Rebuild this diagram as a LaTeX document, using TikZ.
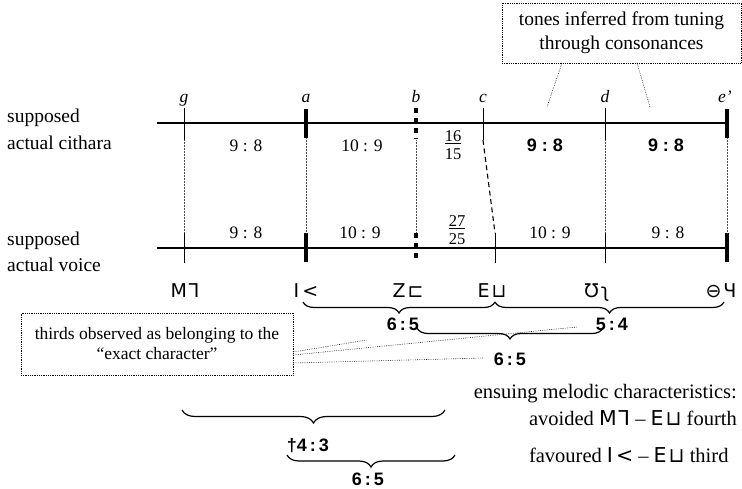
\documentclass[tikz,border=0pt]{standalone}
\usepackage{fontspec}
\setmainfont{Liberation Serif}
\newfontfamily\notefont{DejaVu Sans}
\newfontfamily\ratiofont{Liberation Sans}
\usetikzlibrary{decorations.pathreplacing}
\newcommand\gnG{{\notefont M\kern2pt ⅂}}
\newcommand\gnA{{\notefont I\kern3pt <}}
\newcommand\gnB{{\notefont Z\kern2pt ⊏}}
\newcommand\gnC{{\notefont E\kern2pt ⊔}}
\newcommand\gnD{{\notefont Ʊ\kern2pt ʅ}}
\newcommand\gnE{{\notefont ⊖\kern2pt Ч}}
\begin{document}
\begin{tikzpicture}[x=1pt,y=-1pt,
  lbl/.style={font=\fontsize{19.5}{24}\selectfont, inner sep=0pt, anchor=base west},
  nm/.style={font=\fontsize{17.5}{20}\selectfont\itshape, inner sep=0pt, anchor=base},
  rt/.style={font=\fontsize{17.5}{20}\selectfont, inner sep=0pt, anchor=base},
  frac/.style={font=\fontsize{16.5}{17.5}\selectfont, inner sep=0pt, align=center},
  brt/.style={font=\ratiofont\bfseries\fontsize{18}{20}\selectfont, inner sep=0pt},
  gn/.style={font=\fontsize{19}{22}\selectfont, inner sep=0pt, anchor=base},
  bt/.style={font=\fontsize{20.5}{24}\selectfont, inner sep=0pt},
  staff/.style={line width=1.3pt},
  thintick/.style={line width=1pt},
  thicktick/.style={line width=4pt},
  dotsq/.style={line width=3.5pt, dash pattern=on 4.5pt off 5.5pt},
  guide/.style={line width=0.5pt, black!70, dash pattern=on 0.5pt off 1pt},
  leader/.style={line width=0.6pt, dash pattern=on 0.6pt off 1.2pt},
  dbox/.style={draw, line width=0.6pt, dash pattern=on 0.6pt off 1.2pt, align=center, inner sep=0pt},
  brc/.style={decorate, decoration={brace, amplitude=#1, mirror}, line width=1.2pt},
  brc/.default=11pt
]
\useasboundingbox (0,0) rectangle (742,488);

% left labels
\node[lbl] (sup1) at (7,122) {supposed};
\node[lbl] (cith) at (7,149) {actual cithara};
\node[lbl] (sup2) at (7,245) {supposed};
\node[lbl] (voic) at (7,271) {actual voice};

% staff lines
\coordinate (tL) at (157,123); \coordinate (tR) at (727,123);
\coordinate (bL) at (157,248); \coordinate (bR) at (727,248);
\draw[staff] (tL) -- (tR);
\draw[staff] (bL) -- (bR);

% tick end points
\coordinate (gT1) at (184,108); \coordinate (gT2) at (184,140);
\coordinate (aT1) at (306,109); \coordinate (aT2) at (306,138);
\coordinate (bT1) at (416,108); \coordinate (bT2) at (416,139);
\coordinate (cT1) at (483,108); \coordinate (cT2) at (483,140);
\coordinate (dT1) at (605,108); \coordinate (dT2) at (605,140);
\coordinate (eT1) at (727,109); \coordinate (eT2) at (727,138);
\coordinate (gB1) at (184,233); \coordinate (gB2) at (184,263);
\coordinate (aB1) at (306,233); \coordinate (aB2) at (306,262);
\coordinate (bB1) at (416,233); \coordinate (bB2) at (416,263);
\coordinate (cB1) at (495,233); \coordinate (cB2) at (495,263);
\coordinate (dB1) at (605,233); \coordinate (dB2) at (605,263);
\coordinate (eB1) at (727,233); \coordinate (eB2) at (727,262);

\draw[thintick] (gT1) -- (gT2);
\draw[thicktick] (aT1) -- (aT2);
\draw[dotsq] (bT1) -- (bT2);
\draw[thintick] (cT1) -- (cT2);
\draw[thintick] (dT1) -- (dT2);
\draw[thicktick] (eT1) -- (eT2);
\draw[thintick] (gB1) -- (gB2);
\draw[thicktick] (aB1) -- (aB2);
\draw[dotsq] (bB1) -- (bB2);
\draw[thintick] (cB1) -- (cB2);
\draw[thintick] (dB1) -- (dB2);
\draw[thicktick] (eB1) -- (eB2);

% guides between the two rows
\draw[guide] (gT2) -- (gB1);
\draw[guide] (aT2) -- (aB1);
\draw[guide] ([yshift=-1pt]bT2) -- (bB1);
\draw[guide] (dT2) -- (dB1);
\draw[guide] (eT2) -- (eB1);
\draw[line width=1.1pt, dash pattern=on 5pt off 3.5pt] (cT2) -- (cB1);

% note names
\node[nm] (ng) at (184,102) {g};
\node[nm] (na) at (306,102) {a};
\node[nm] (nb) at (416,102) {b};
\node[nm] (nc) at (483,102) {c};
\node[nm] (nd) at (605,102) {d};
\node[nm] (ne) at (725,102) {e’};

% ratios, cithara
\node[rt] (r1) at (246,151) {9 : 8};
\node[rt] (r2) at (362,151) {10 : 9};
\node[frac] (r3) at (453,145) {\underline{16}\\15};
\node[brt, anchor=base] (r4) at (545,151) {9\;:\;8};
\node[brt, anchor=base] (r5) at (666,151) {9\;:\;8};
% ratios, voice
\node[rt] (v1) at (246,238) {9 : 8};
\node[rt] (v2) at (360,238) {10 : 9};
\node[frac] (v3) at (457,230) {\underline{27}\\25};
\node[rt] (v4) at (550,238) {10 : 9};
\node[rt] (v5) at (668,238) {9 : 8};

% notation signs
\node[gn] (sg) at (185,297) {\gnG};
\node[gn] (sa) at (306,297) {\gnA};
\node[gn] (sb) at (408,297) {\gnB};
\node[gn] (sc) at (492,297) {\gnC};
\node[gn] (sd) at (597,297) {\gnD};
\node[gn] (se) at (721,297) {\gnE};

% upper box
\node[dbox, minimum width=239pt, minimum height=60pt, font=\fontsize{19.5}{24}\selectfont] (tones) at (621.5,33) {tones inferred from tuning\\through consonances};
\coordinate (t1s) at (562,63); \coordinate (t1e) at (547,107);
\coordinate (t2s) at (637,63); \coordinate (t2e) at (650,107);
\draw[leader] (t1s) -- (t1e);
\draw[leader] (t2s) -- (t2e);

% braces for thirds
\coordinate (b1a) at (303,302); \coordinate (b1b) at (495,302);
\coordinate (b2a) at (495,302); \coordinate (b2b) at (724,302);
\coordinate (b3a) at (417,328); \coordinate (b3b) at (603,328);
\draw[brc] (b1a) -- (b1b);
\draw[brc] (b2a) -- (b2b);
\draw[brc] (b3a) -- (b3b);
\node[brt] (q1) at (403,324) {6\,:\,5};
\node[brt] (q2) at (612,324) {5\,:\,4};
\node[brt] (q3) at (510,359) {6\,:\,5};

% lower-left box
\node[dbox, minimum width=272pt, minimum height=62pt, font=\fontsize{17.5}{20}\selectfont] (thirds) at (157,344) {thirds observed as belonging to the\\“exact character”};
\coordinate (l1s) at (293,352); \coordinate (l1e) at (367,340);
\coordinate (l2s) at (293,355); \coordinate (l2e) at (577,327);
\coordinate (l3s) at (293,363); \coordinate (l3e) at (483,358);
\draw[leader] (l1s) -- (l1e);
\draw[leader] (l2s) -- (l2e);
\draw[leader] (l3s) -- (l3e);

% ensuing characteristics
\node[bt, anchor=base east] (ens) at (737,398) {ensuing melodic characteristics:};
\node[bt, anchor=base east] (avo) at (737,425) {avoided \gnG\ – \gnC\ fourth};
\node[bt, anchor=base west] (fav) at ([yshift=-37pt]avo.base west) {favoured \gnA\ – \gnC\ third};

\coordinate (b4a) at (182,410); \coordinate (b4b) at (445,410);
\coordinate (b5a) at (287,455); \coordinate (b5b) at (455,455);
\draw[brc=13pt] (b4a) -- (b4b);
\draw[brc=12pt] (b5a) -- (b5b);
\node[brt] (q4) at (308,446) {†4\,:\,3};
\node[brt] (q5) at (368,479) {6\,:\,5};
\end{tikzpicture}
\end{document}
